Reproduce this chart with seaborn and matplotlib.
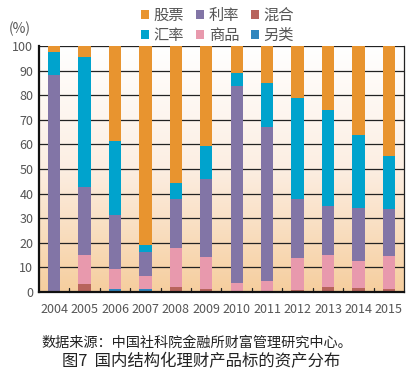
import numpy as np
import pandas as pd
import matplotlib
matplotlib.use("Agg")
import matplotlib.pyplot as plt
import seaborn as sns
from matplotlib.patches import Patch

# ==========================================
# 数据
# ==========================================
years = ["2004", "2005", "2006", "2007", "2008", "2009",
         "2010", "2011", "2012", "2013", "2014", "2015"]
# 从下往上的堆叠顺序
alt = [0.0, 0.0, 1.0, 1.0, 0.0, 0.0, 0.0, 0.0, 0.0, 0.0, 0.0, 0.0]        # 另类
mixed = [0.0, 3.0, 0.3, 0.0, 1.8, 1.2, 0.0, 0.0, 0.7, 1.8, 1.5, 1.0]      # 混合
commodity = [0.0, 12.0, 7.9, 5.6, 16.1, 13.0, 3.7, 4.5, 13.0, 13.1, 11.0, 13.5]  # 商品
rate = [88.1, 27.6, 22.0, 9.6, 19.8, 31.6, 80.2, 62.5, 24.2, 20.1, 21.6, 19.1]   # 利率
fx = [9.4, 53.1, 30.2, 2.9, 6.5, 13.5, 5.3, 18.1, 40.8, 39.0, 29.6, 21.8]        # 汇率
stock = [2.5, 4.3, 38.6, 80.9, 55.8, 40.7, 10.8, 14.9, 21.3, 26.0, 36.3, 44.6]   # 股票

series = [("另类", alt), ("混合", mixed), ("商品", commodity),
          ("利率", rate), ("汇率", fx), ("股票", stock)]
colors = {"另类": "#2F86BE", "混合": "#B8645C", "商品": "#E899AD",
          "利率": "#8275A6", "汇率": "#00A3CD", "股票": "#E8942F"}

df = pd.DataFrame({name: vals for name, vals in series}, index=years)

# ==========================================
# 画图
# ==========================================
sns.set_theme(style="white")
plt.rcParams['font.family'] = ['Noto Sans CJK SC', 'DejaVu Sans']

fig = plt.figure(figsize=(4.14, 3.78), dpi=100)
ax = fig.add_axes([0.094, 0.228, 0.882, 0.650])

# 背景渐变：上白下橙
grad = np.linspace(0, 1, 256).reshape(-1, 1)
cmap = matplotlib.colors.LinearSegmentedColormap.from_list("bg", ["#FFFFFF", "#FCEEE2", "#F6CE9E"])
ax.imshow(grad, aspect="auto", cmap=cmap, extent=[-0.5, 11.5, 0, 100],
          origin="upper", zorder=0)

# seaborn 画累计高度，先画的（最矮的）放在最上层
bottom = np.zeros(len(years))
for name, vals in series:
    bottom += df[name].values
    sns.barplot(x=years, y=bottom.copy(), color=colors[name],
                width=0.4, ax=ax, saturation=1, edgecolor="none")

n = len(years)
for i, p in enumerate(ax.patches):
    p.set_zorder(10 - i // n)

ax.set_xlim(-0.5, 11.5)
ax.set_ylim(0, 100)
ax.set_yticks(range(0, 101, 10))
ax.yaxis.grid(True, color="#222222", linewidth=0.9)
for gl in ax.get_ygridlines():
    gl.set_zorder(1)

ax.tick_params(axis="both", labelsize=9, colors="#555555", length=0)
ax.tick_params(axis="x", pad=8)
ax.tick_params(axis="y", pad=4)

# 类别间小刻度
for xb in np.arange(0.5, 11, 1):
    ax.plot([xb, xb], [0, 1.5], color="#222222", linewidth=0.9, zorder=12, clip_on=False)

for side in ["left", "bottom"]:
    ax.spines[side].set_color("#111111")
    ax.spines[side].set_linewidth(1.6)
    ax.spines[side].set_zorder(13)
ax.spines["right"].set_color("#222222")
ax.spines["right"].set_linewidth(0.9)
ax.spines["top"].set_visible(False)
ax.set_xlabel("")
ax.set_ylabel("")

# 图例（按列填充）
order = ["股票", "汇率", "利率", "商品", "混合", "另类"]
handles = [Patch(facecolor=colors[k], edgecolor="none", label=k) for k in order]
fig.legend(handles=handles, ncol=3, loc="center", bbox_to_anchor=(0.525, 0.933),
           frameon=False, fontsize=11, handlelength=0.55, handleheight=0.55,
           handletextpad=0.3, columnspacing=0.75, labelspacing=0.2,
           labelcolor="#555555", borderpad=0)

fig.text(0.048, 0.923, "(%)", fontsize=10, color="#555555", ha="center", va="center")

fig.text(0.101, 0.093, "数据来源：中国社科院金融所财富管理研究中心。", fontsize=10.2,
         color="#222222", ha="left", va="center")
fig.text(0.15, 0.042, "图7  国内结构化理财产品标的资产分布", fontsize=11.8,
         color="#222222", ha="left", va="center", fontweight="medium")

plt.savefig("out.png", dpi=100)
